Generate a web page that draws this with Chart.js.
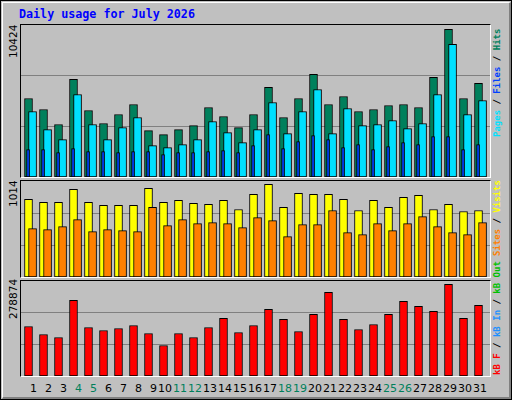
<!DOCTYPE html>
<html><head><meta charset="utf-8">
<script src="https://cdn.jsdelivr.net/npm/chart.js@4"></script>
<style>
body{margin:0;background:#fff}
#frame{position:absolute;left:0;top:0;width:510px;height:398px;background:#C0C0C0;border:1px solid #000}
#inner{position:absolute;left:1px;top:1px;width:506px;height:394px;border-top:1px solid #fff;border-left:1px solid #fff;border-right:2px solid #808080;border-bottom:2px solid #808080}
.panel{position:absolute;left:20px;width:469px;border-top:1px solid #000;border-left:1px solid #000;border-right:1px solid #fff;border-bottom:1px solid #fff}
canvas{position:absolute;left:0;top:0}
.t{position:absolute;white-space:nowrap}
.rot{transform-origin:0 0;transform:rotate(-90deg)}
.mono{font-family:"DejaVu Sans Mono",monospace}
.xl{position:absolute;top:382px;width:20px;text-align:right;font:11px "DejaVu Sans",sans-serif}
</style></head><body>
<div id="frame"><div id="inner"></div></div>
<div class="t mono" style="left:19px;top:7px;font-weight:bold;font-size:11.7px;color:#0000FF">Daily usage for July 2026</div>
<div class="panel" style="top:24px;height:152px"><canvas id="c1" width="469" height="152"></canvas></div>
<div class="panel" style="top:180px;height:96px"><canvas id="c2" width="469" height="96"></canvas></div>
<div class="panel" style="top:280px;height:95px"><canvas id="c3" width="469" height="95"></canvas></div>
<div id="labels"></div>
<script>
const days=[1,2,3,4,5,6,7,8,9,10,11,12,13,14,15,16,17,18,19,20,21,22,23,24,25,26,27,28,29,30,31];
const weekend=[4,5,11,12,18,19,25,26];
const hits=[5542,4763,3702,6886,4693,3773,4410,5117,3278,2995,3348,3631,4905,4268,3490,4410,6320,4197,5542,7239,5117,5683,4622,4763,5046,5117,4905,7027,10424,5542,6602];
const files=[4622,3348,2641,5824,3702,2641,3490,4197,2217,2075,2287,2641,3914,3136,2429,3348,5258,3065,4622,6178,3065,4834,3631,3702,3985,3419,3773,5824,9361,4410,5400];
const pages=[1934,1934,1721,2004,1792,1792,1721,1792,1792,1580,1721,1721,1792,1863,1721,2217,2995,2004,2500,2924,2641,2075,2287,1934,2146,2429,2287,2853,2853,1934,2287];
const visits=[849,816,816,959,816,783,783,783,970,816,838,805,794,838,738,904,1014,761,915,904,904,849,727,838,761,871,893,738,794,716,727];
const sites=[529,518,551,628,496,518,507,496,761,562,628,584,595,584,540,650,617,441,573,573,727,485,463,584,507,584,661,551,485,463,595];
const kbytes=[150634,126207,117047,230023,147581,138421,144528,153688,129261,92620,129261,117047,147581,175062,132314,153688,202542,172008,135367,187275,254450,172008,141474,156741,187275,226969,211702,196435,278874,175062,214756];
const maxLabels=["10424","1014","278874"];

const pts=(arr,off)=>arr.map((v,i)=>({x:days[i]+off,y:v}));
const ds=(arr,off,color,w,order)=>({data:pts(arr,off),backgroundColor:color,borderColor:'#000',borderWidth:1,borderSkipped:false,barThickness:w,grouped:false,order:order});
function make(id,datasets,max){
  new Chart(document.getElementById(id),{type:'bar',data:{datasets},
    options:{responsive:false,animation:false,devicePixelRatio:1,layout:{padding:0},
      plugins:{legend:{display:false},tooltip:{enabled:false}},
      scales:{x:{type:'linear',offset:false,min:0.5,max:0.5+469/15,display:false},
        y:{min:0,max:max,ticks:{display:false},border:{display:false},
          grid:{color:'#808080',drawTicks:false,lineWidth:1},
          afterBuildTicks:s=>{s.ticks=[{value:max/3},{value:2*max/3}];}}}}});
}
make('c1',[ds(hits,0,'#00805C',8,2),ds(files,0.27,'#00E0FF',8,1),ds(pages,-0.03,'#0040FF',3,0)],10727);
make('c2',[ds(visits,0,'#FFFF00',8,1),ds(sites,0.27,'#FF8000',8,0)],1050);
make('c3',[ds(kbytes,0,'#FF0000',8,0)],288900);

const L=document.getElementById('labels');
let h='';
days.forEach(d=>{h+=`<div class="xl" style="left:${17+15*(d-1)}px;color:${weekend.includes(d)?'#00805C':'#000'}">${d}</div>`;});
const tops=[27,182,282];
maxLabels.forEach((m,i)=>{h+=`<div class="t rot" style="left:7px;top:${tops[i]+m.length*6.2}px;font:10.5px 'DejaVu Sans',sans-serif;color:#000">${m}</div>`;});
h+=`<div class="t rot mono" style="left:492px;top:137px;font-size:9px;font-weight:bold"><span style="color:#00E0FF">Pages</span> / <span style="color:#0040FF">Files</span> / <span style="color:#00805C">Hits</span></div>`;
h+=`<div class="t rot mono" style="left:492px;top:256px;font-size:9px;font-weight:bold"><span style="color:#FF8000">Sites</span> / <span style="color:#FFFF00">Visits</span></div>`;
h+=`<div class="t rot mono" style="left:492px;top:375px;font-size:9px;font-weight:bold"><span style="color:#FF0000">kB F</span> / <span style="color:#1E90FF">kB In</span> / <span style="color:#00C000">kB Out</span></div>`;
L.innerHTML=h;
</script></body></html>
